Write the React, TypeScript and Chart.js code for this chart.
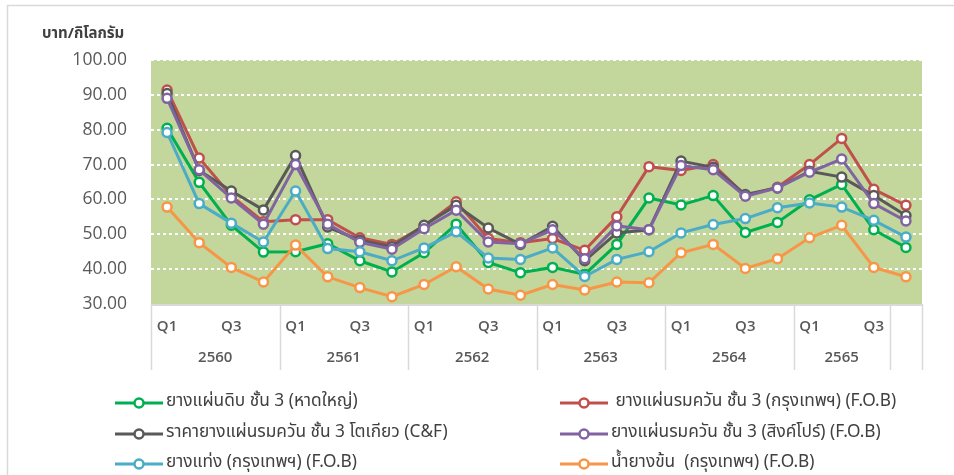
import React, { useEffect, useRef } from "react";
import { Chart, registerables } from "chart.js";

Chart.register(...registerables);

// ---------- data ----------
const quarterLabels = [
  "Q1", "Q2", "Q3", "Q4",
  "Q1", "Q2", "Q3", "Q4",
  "Q1", "Q2", "Q3", "Q4",
  "Q1", "Q2", "Q3", "Q4",
  "Q1", "Q2", "Q3", "Q4",
  "Q1", "Q2", "Q3",
  "Q4",
];
const yearLabels = ["2560", "2561", "2562", "2563", "2564", "2565", ""];
const yearSpans = [4, 4, 4, 4, 4, 3, 1];
const quarterLabelInterval = 2;

const yAxisTitle = "บาท/กิโลกรัม";
const yTickMin = 30;
const yTickMax = 100;
const yTickStep = 10;

const seriesNames = [
  "ยางแผ่นดิบ ชั้น 3 (หาดใหญ่)",
  " ยางแผ่นรมควัน ชั้น 3 (กรุงเทพฯ) (F.O.B)",
  "ราคายางแผ่นรมควัน ชั้น 3 โตเกียว (C&F)",
  "ยางแผ่นรมควัน ชั้น 3 (สิงค์โปร์) (F.O.B)",
  "ยางแท่ง (กรุงเทพฯ) (F.O.B)",
  "น้ำยางข้น  (กรุงเทพฯ) (F.O.B)",
];

const rssHatYai = [80.4, 64.9, 52.6, 44.9, 45.0, 47.3, 42.4, 39.2, 44.7, 52.9, 41.9, 39.0, 40.5, 38.5, 47.1, 60.4, 58.4, 61.1, 50.5, 53.4, 59.9, 64.3, 51.3, 46.2];
const rss3Bangkok = [91.4, 71.9, 61.0, 53.6, 54.2, 54.2, 49.0, 47.1, 52.3, 59.3, 48.8, 47.6, 48.8, 45.4, 55.0, 69.4, 68.3, 70.0, 61.1, 63.5, 70.0, 77.5, 62.9, 58.3];
const rss3Tokyo = [90.4, 68.3, 62.4, 57.0, 72.6, 52.1, 48.3, 46.4, 52.6, 58.3, 51.8, 47.1, 52.3, 42.4, 50.4, 51.3, 71.0, 69.2, 61.4, 63.3, 68.1, 66.4, 61.1, 55.4];
const rss3Singapore = [89.0, 68.5, 60.4, 52.9, 70.0, 52.9, 47.7, 45.7, 51.6, 56.9, 47.8, 47.3, 51.3, 43.0, 52.4, 51.3, 69.7, 68.5, 60.9, 63.3, 67.8, 71.6, 58.8, 53.8];
const str20Bangkok = [79.2, 58.8, 53.2, 47.8, 62.4, 45.9, 45.0, 42.4, 46.1, 50.7, 43.2, 42.8, 46.1, 37.9, 42.8, 45.0, 50.4, 52.8, 54.5, 57.6, 59.0, 57.8, 54.0, 49.2];
const latexBangkok = [57.8, 47.6, 40.5, 36.3, 46.9, 37.8, 34.7, 32.1, 35.6, 40.7, 34.3, 32.5, 35.6, 34.0, 36.3, 36.1, 44.7, 47.1, 40.2, 43.0, 49.0, 52.6, 40.5, 37.8];

const seriesValues = [rssHatYai, rss3Bangkok, rss3Tokyo, rss3Singapore, str20Bangkok, latexBangkok];
const seriesColors = ["#00b050", "#c0504d", "#595959", "#8064a2", "#4bacc6", "#f79646"];

// ---------- helpers ----------
const yearOfIndex: string[] = [];
yearSpans.forEach((span, g) => {
  for (let k = 0; k < span; k++) yearOfIndex.push(yearLabels[g]);
});
const categories = quarterLabels.map((q, i) => `${yearOfIndex[i]} ${q}`.trim());

const LATIN_FONT = "'Open Sans', 'Noto Sans', sans-serif";
const THAI_FONT = "'Noto Sans Thai', 'Noto Sans', Tahoma, 'DejaVu Sans', sans-serif";
const AXIS_GREY = "#d9d9d9";
const TEXT_GREY = "#595959";

const decorPlugin = {
  id: "decor",
  beforeDraw(chart: any) {
    const { ctx, chartArea: a, width, height } = chart;
    ctx.save();
    ctx.fillStyle = "#ffffff";
    ctx.fillRect(0, 0, width, height);
    // outer frame
    ctx.strokeStyle = AXIS_GREY;
    ctx.lineWidth = 1.5;
    ctx.beginPath();
    ctx.moveTo(7.5, height);
    ctx.lineTo(7.5, 5.5);
    ctx.lineTo(width, 5.5);
    ctx.stroke();
    // plot background
    ctx.fillStyle = "#c3d69b";
    ctx.fillRect(a.left, a.top, a.right - a.left, a.bottom - a.top);
    // axis title
    ctx.fillStyle = "#404040";
    ctx.font = `bold 15px ${THAI_FONT}`;
    ctx.textAlign = "left";
    ctx.textBaseline = "middle";
    ctx.fillText(yAxisTitle, 42, 35);
    ctx.restore();
  },
  afterDraw(chart: any) {
    const { ctx, chartArea: a } = chart;
    const xs = chart.scales.x;
    const n = categories.length;
    const half = (xs.getPixelForValue(1) - xs.getPixelForValue(0)) / 2;
    ctx.save();
    // axis line
    ctx.strokeStyle = AXIS_GREY;
    ctx.lineWidth = 2;
    ctx.beginPath();
    ctx.moveTo(a.left, a.bottom + 1);
    ctx.lineTo(a.right, a.bottom + 1);
    ctx.stroke();
    // group dividers
    const boxBottom = 370;
    ctx.lineWidth = 1.5;
    let start = 0;
    const bounds: number[] = [];
    yearSpans.forEach((span) => {
      bounds.push(xs.getPixelForValue(start) - half);
      start += span;
    });
    bounds.push(xs.getPixelForValue(n - 1) + half);
    bounds.forEach((bx) => {
      ctx.beginPath();
      ctx.moveTo(Math.round(bx) + 0.5, a.bottom);
      ctx.lineTo(Math.round(bx) + 0.5, boxBottom);
      ctx.stroke();
    });
    // quarter labels
    ctx.fillStyle = TEXT_GREY;
    ctx.font = `600 15px ${LATIN_FONT}`;
    ctx.textAlign = "center";
    ctx.textBaseline = "middle";
    quarterLabels.forEach((q, i) => {
      if (i % quarterLabelInterval === 0) ctx.fillText(q, xs.getPixelForValue(i), 327);
    });
    // year labels
    start = 0;
    yearSpans.forEach((span, g) => {
      const cx = (xs.getPixelForValue(start) + xs.getPixelForValue(start + span - 1)) / 2;
      if (yearLabels[g]) ctx.fillText(yearLabels[g], cx, 358);
      start += span;
    });
    // legend (2 columns x 3 rows)
    const colLine = [115, 560];
    const rowY = [403, 434, 464];
    chart.data.datasets.forEach((ds: any, i: number) => {
      const col = i % 2;
      const row = Math.floor(i / 2);
      const x0 = colLine[col];
      const y = rowY[row];
      ctx.strokeStyle = ds.borderColor;
      ctx.lineWidth = 3;
      ctx.beginPath();
      ctx.moveTo(x0, y);
      ctx.lineTo(x0 + 48, y);
      ctx.stroke();
      ctx.beginPath();
      ctx.arc(x0 + 24, y, 4.5, 0, Math.PI * 2);
      ctx.fillStyle = "#ffffff";
      ctx.fill();
      ctx.lineWidth = 2.5;
      ctx.stroke();
      ctx.fillStyle = "#404040";
      ctx.font = `17.3px ${THAI_FONT}`;
      ctx.textAlign = "left";
      ctx.textBaseline = "middle";
      ctx.fillText(ds.label, x0 + 51, y);
    });
    ctx.restore();
  },
};

export default function App() {
  const canvasRef = useRef<HTMLCanvasElement | null>(null);

  useEffect(() => {
    if (!canvasRef.current) return;
    const chart = new Chart(canvasRef.current, {
      type: "line",
      data: {
        labels: categories,
        datasets: seriesValues.map((vals, i) => ({
          label: seriesNames[i],
          data: vals,
          borderColor: seriesColors[i],
          backgroundColor: seriesColors[i],
          borderWidth: 3,
          pointRadius: 4.5,
          pointBorderWidth: 2.5,
          pointBackgroundColor: "#ffffff",
          pointBorderColor: seriesColors[i],
          tension: 0,
          order: seriesValues.length - i,
        })),
      },
      options: {
        animation: false,
        responsive: false,
        maintainAspectRatio: false,
        layout: { padding: { left: 0, top: 60, right: 32, bottom: 171 } },
        plugins: { legend: { display: false }, tooltip: { enabled: false } },
        scales: {
          x: { display: false, offset: true },
          y: {
            min: yTickMin,
            max: yTickMax,
            afterFit: (scale: any) => {
              scale.width = 151;
            },
            ticks: {
              stepSize: yTickStep,
              padding: 24,
              color: TEXT_GREY,
              font: { family: LATIN_FONT, size: 17.5 },
              callback: (v: any) => Number(v).toFixed(2),
            },
            grid: {
              drawTicks: false,
              lineWidth: 2,
              color: (ctx: any) => (ctx.tick && ctx.tick.value === yTickMin ? "rgba(0,0,0,0)" : "#ffffff"),
            },
            border: { display: false, dash: [3, 3] },
          },
        },
      },
      plugins: [decorPlugin],
    } as any);
    return () => chart.destroy();
  }, []);

  return (
    <div style={{ position: "fixed", left: 0, top: 0, width: 954, height: 475 }}>
      <canvas ref={canvasRef} width={954} height={475} />
    </div>
  );
}
